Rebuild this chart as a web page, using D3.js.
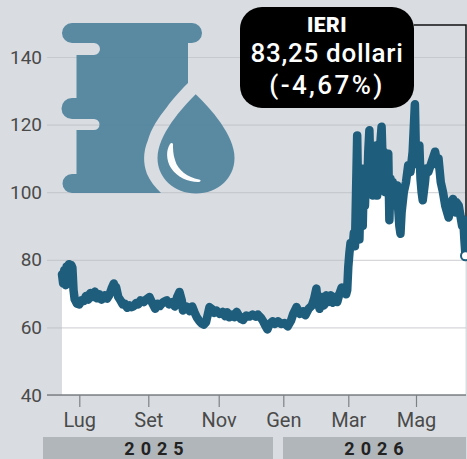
<!DOCTYPE html>
<html>
<head>
<meta charset="utf-8">
<script src="https://cdn.jsdelivr.net/npm/d3@7"></script>
<style>
  html, body { margin: 0; padding: 0; background: #d9dde1; overflow: hidden; }
  svg { display: block; font-family: Roboto, sans-serif; }
</style>
</head>
<body>
<script>
// Price series. Ten values a row in both arrays.
const dates = [
  '2025-06-16','2025-06-17','2025-06-18','2025-06-19','2025-06-20','2025-06-21','2025-06-22','2025-06-23','2025-06-24','2025-06-25',
  '2025-06-26','2025-06-27','2025-06-29','2025-07-01','2025-07-03','2025-07-05','2025-07-07','2025-07-09','2025-07-11','2025-07-13',
  '2025-07-15','2025-07-17','2025-07-19','2025-07-21','2025-07-24','2025-07-26','2025-07-28','2025-07-30','2025-08-01','2025-08-02',
  '2025-08-03','2025-08-05','2025-08-07','2025-08-09','2025-08-11','2025-08-13','2025-08-15','2025-08-17','2025-08-19','2025-08-21',
  '2025-08-23','2025-08-25','2025-08-28','2025-08-30','2025-09-02','2025-09-04','2025-09-07','2025-09-09','2025-09-11','2025-09-14',
  '2025-09-17','2025-09-19','2025-09-22','2025-09-24','2025-09-26','2025-09-28','2025-09-30','2025-10-01','2025-10-04','2025-10-07',
  '2025-10-09','2025-10-11','2025-10-13','2025-10-15','2025-10-17','2025-10-19','2025-10-21','2025-10-24','2025-10-26','2025-10-28',
  '2025-10-30','2025-11-02','2025-11-05','2025-11-07','2025-11-09','2025-11-11','2025-11-14','2025-11-16','2025-11-18','2025-11-20',
  '2025-11-22','2025-11-24','2025-11-27','2025-11-30','2025-12-03','2025-12-06','2025-12-08','2025-12-11','2025-12-13','2025-12-15',
  '2025-12-17','2025-12-19','2025-12-22','2025-12-24','2025-12-27','2025-12-30','2026-01-02','2026-01-05','2026-01-08','2026-01-10',
  '2026-01-13','2026-01-16','2026-01-19','2026-01-21','2026-01-24','2026-01-27','2026-01-29','2026-01-31','2026-02-01','2026-02-03',
  '2026-02-05','2026-02-07','2026-02-09','2026-02-11','2026-02-13','2026-02-15','2026-02-17','2026-02-19','2026-02-21','2026-02-23',
  '2026-02-25','2026-02-27','2026-02-28','2026-03-01','2026-03-02','2026-03-03','2026-03-05','2026-03-06','2026-03-07','2026-03-08',
  '2026-03-09','2026-03-10','2026-03-11','2026-03-12','2026-03-13','2026-03-14','2026-03-15','2026-03-16','2026-03-17','2026-03-18',
  '2026-03-19','2026-03-20','2026-03-21','2026-03-22','2026-03-23','2026-03-24','2026-03-25','2026-03-26','2026-03-27','2026-03-28',
  '2026-03-29','2026-03-30','2026-03-31','2026-04-01','2026-04-02','2026-04-03','2026-04-04','2026-04-05','2026-04-06','2026-04-07',
  '2026-04-08','2026-04-09','2026-04-10','2026-04-12','2026-04-14','2026-04-15','2026-04-16','2026-04-17','2026-04-18','2026-04-20',
  '2026-04-22','2026-04-24','2026-04-26','2026-04-28','2026-04-30','2026-05-01','2026-05-02','2026-05-03','2026-05-04','2026-05-05',
  '2026-05-06','2026-05-07','2026-05-09','2026-05-10','2026-05-12','2026-05-14','2026-05-16','2026-05-18','2026-05-20','2026-05-21',
  '2026-05-23','2026-05-25','2026-05-27','2026-05-30','2026-06-01','2026-06-03','2026-06-05','2026-06-06','2026-06-08','2026-06-10',
  '2026-06-11','2026-06-12','2026-06-13','2026-06-14'
];
const prices = [
  75.7,73,77,72.5,78,74,78.7,74.5,78.5,77.7,
  71,68.3,67,66.8,68,67.8,69.3,68.2,70.2,69,
  70.6,68.6,69.8,68.2,69.5,68.5,69.6,71.5,73,71,
  72,69,68,66.8,67,65.8,66.5,66,66.3,67.2,
  66.8,68,67.5,68.2,69,67.5,65.5,67,66.3,67.5,
  68,66.8,67.5,66.2,69,70.5,68,65,66.2,64.8,
  66.2,64.5,63,62,61.2,60.8,61.5,66,65.5,64.3,
  65,64,64.6,63.3,64.5,63,63.8,63,64.6,63.5,
  62.5,62.2,63.5,63.2,63.8,63.2,63.8,62.8,61.8,60.5,
  59.4,61,61.8,61,61.8,61,61.3,60.3,62,64,
  66,64,64.8,63.6,65.5,66.5,68.5,71.5,68,65.5,
  69,66.5,69.5,67.5,69.5,67.3,69,67.5,70,71.8,
  70.5,69.8,71,78,82,85,84,88,84,100,
  116.8,95,86,100,107,90,105,96,106,100,
  112,118.3,105,110,99,108,100,113.8,99,110,
  101,115,119.4,108,112,100,109,104,111.4,91.7,
  104,96,103,99,102,95,90,87.7,94,100,
  103,108,106,112,126,110,114,108,113.8,104,
  100,97.6,103,107,106,108,110,112,108,110,
  103,100,96,92.5,97,98,94,97,96,92,
  90,92,86,81.2
];
const yTicks = [40, 60, 80, 100, 120, 140];
const monthDates = ['2025-07-01','2025-09-01','2025-11-01','2026-01-01','2026-03-01','2026-05-01'];
const monthLabels = ['Lug','Set','Nov','Gen','Mar','Mag'];
const years = ['2025', '2026'];
const calloutLines = ['IERI', '83,25 dollari', '(-4,67%)'];

const width = 467, height = 459;
const parseDate = d3.utcParse('%Y-%m-%d');

const svg = d3.select('body').append('svg')
  .attr('width', width)
  .attr('height', height);

svg.append('rect').attr('width', width).attr('height', height).attr('fill', '#d9dde1');

// Scales. The months in the original are not quite evenly spaced, so the time scale is piecewise.
const x = d3.scaleUtc()
  .domain(['2025-06-16', ...monthDates, '2026-06-14'].map(parseDate))
  .range([62, 79.3, 148.3, 218.7, 283.3, 348.3, 416, 465.5]);
const y = d3.scaleLinear().domain([40, 140]).range([395, 57]);

const series = dates.map((d, i) => ({date: parseDate(d), value: prices[i]}));

// White area under the line.
svg.append('path')
  .datum(series)
  .attr('fill', '#ffffff')
  .attr('d', d3.area().x(d => x(d.date)).y0(y(40)).y1(d => y(d.value)));

// Y axis with gridlines.
const yAxis = svg.append('g')
  .attr('transform', 'translate(466,0)')
  .call(d3.axisLeft(y).tickValues(yTicks).tickSize(419).tickPadding(5));
yAxis.select('.domain').remove();
yAxis.selectAll('line').attr('stroke', '#b9bdc1').attr('stroke-width', 1.2).attr('stroke-opacity', 0.6);
yAxis.selectAll('text')
  .attr('fill', '#4a4a4a')
  .style('font-size', '19px')
  .style('font-family', 'Roboto, sans-serif');

// X axis.
const xAxis = svg.append('g')
  .attr('transform', 'translate(0,' + y(40) + ')')
  .call(d3.axisBottom(x)
    .tickValues(monthDates.map(parseDate))
    .tickFormat((d, i) => monthLabels[i])
    .tickSize(12)
    .tickPadding(6)
    .tickSizeOuter(0));
xAxis.select('.domain').remove();
xAxis.selectAll('line').attr('stroke', '#7d8185').attr('stroke-width', 1.2);
xAxis.selectAll('text')
  .attr('fill', '#4a4a4a')
  .style('font-size', '20px')
  .style('font-family', 'Roboto, sans-serif');
svg.append('line')
  .attr('x1', 47).attr('x2', 466)
  .attr('y1', y(40)).attr('y2', y(40))
  .attr('stroke', '#7d8185').attr('stroke-width', 1.5);

// Year bands. The labels sit a little off the band centres in the original.
const yearBands = [[43, 273], [283, 466]];
const yearLabelX = [157, 377];
const bands = svg.selectAll('g.year')
  .data(years)
  .enter()
  .append('g')
  .attr('class', 'year');
bands.append('rect')
  .attr('x', (d, i) => yearBands[i][0])
  .attr('y', 437)
  .attr('width', (d, i) => yearBands[i][1] - yearBands[i][0])
  .attr('height', 22)
  .attr('fill', '#b1b6ba');
bands.append('text')
  .attr('x', (d, i) => yearLabelX[i])
  .attr('y', 454.5)
  .attr('text-anchor', 'middle')
  .attr('fill', '#222222')
  .style('font-size', '18px')
  .style('font-weight', 700)
  .style('letter-spacing', '6px')
  .text(d => d);

// Barrel and drop icon.
const icon = svg.append('g').attr('opacity', 0.93);
icon.append('path')
  .attr('fill', '#50849e')
  .attr('d', 'M72,23 H192 A10,10 0 0 1 192,43 H188 V83 C178,93 172,100 167,107 C158,118 151,129 148,140 '
    + 'C143,152 143,163 147,174 C150,181 155,187 161,193 H72 A9.5,9.5 0 0 1 72,174 H76.5 V130 H94 A5.5,5.5 0 0 0 94,119 '
    + 'H72 A10,10 0 0 1 72,98 H76.5 V55 H94 A6,6 0 0 0 94,43 H72 A10,10 0 0 1 72,23 Z');
icon.append('path')
  .attr('fill', '#50849e')
  .attr('d', 'M195.7,94.3 C210,108 234.5,135 234.5,158 C234.5,178 218,193.5 196,193.5 C174,193.5 157.5,178 157.5,158 C157.5,135 182,108 195.7,94.3 Z');
icon.append('path')
  .attr('fill', '#ffffff')
  .attr('d', 'M170,144 C166,150 166,160 171,168 C177,177 188,182 198,182 C201,182 201.5,180 199,179.5 C188,177 178,171 175,160 C173,154 173,149 173,144 C172.5,142.5 171,142.5 170,144 Z');

// Leader from the callout down to the last point.
svg.append('path')
  .attr('fill', 'none')
  .attr('stroke', '#111111')
  .attr('stroke-width', 1.5)
  .attr('d', 'M414,25 H466 V250');

// Price line.
svg.append('path')
  .datum(series)
  .attr('fill', 'none')
  .attr('stroke', '#1f5d7c')
  .attr('stroke-width', 8.5)
  .attr('stroke-linejoin', 'round')
  .attr('stroke-linecap', 'round')
  .attr('d', d3.line().x(d => x(d.date)).y(d => y(d.value)));

// Marker on the last value.
const last = series[series.length - 1];
svg.append('circle')
  .attr('cx', x(last.date))
  .attr('cy', y(last.value))
  .attr('r', 4.5)
  .attr('fill', '#ffffff')
  .attr('stroke', '#1f5d7c')
  .attr('stroke-width', 2);

// Callout.
svg.append('rect')
  .attr('x', 240).attr('y', 7)
  .attr('width', 174).attr('height', 101)
  .attr('rx', 22)
  .attr('fill', '#000000');
svg.selectAll('text.callout')
  .data(calloutLines)
  .enter()
  .append('text')
  .attr('class', 'callout')
  .attr('x', 327)
  .attr('y', (d, i) => [32, 62, 94][i])
  .attr('text-anchor', 'middle')
  .attr('fill', '#ffffff')
  .style('font-size', (d, i) => i === 0 ? '21px' : '26px')
  .style('font-weight', (d, i) => i === 0 ? 900 : 500)
  .style('letter-spacing', (d, i) => ['0.5px', '0.7px', '2.4px'][i])
  .text(d => d);
</script>
</body>
</html>
